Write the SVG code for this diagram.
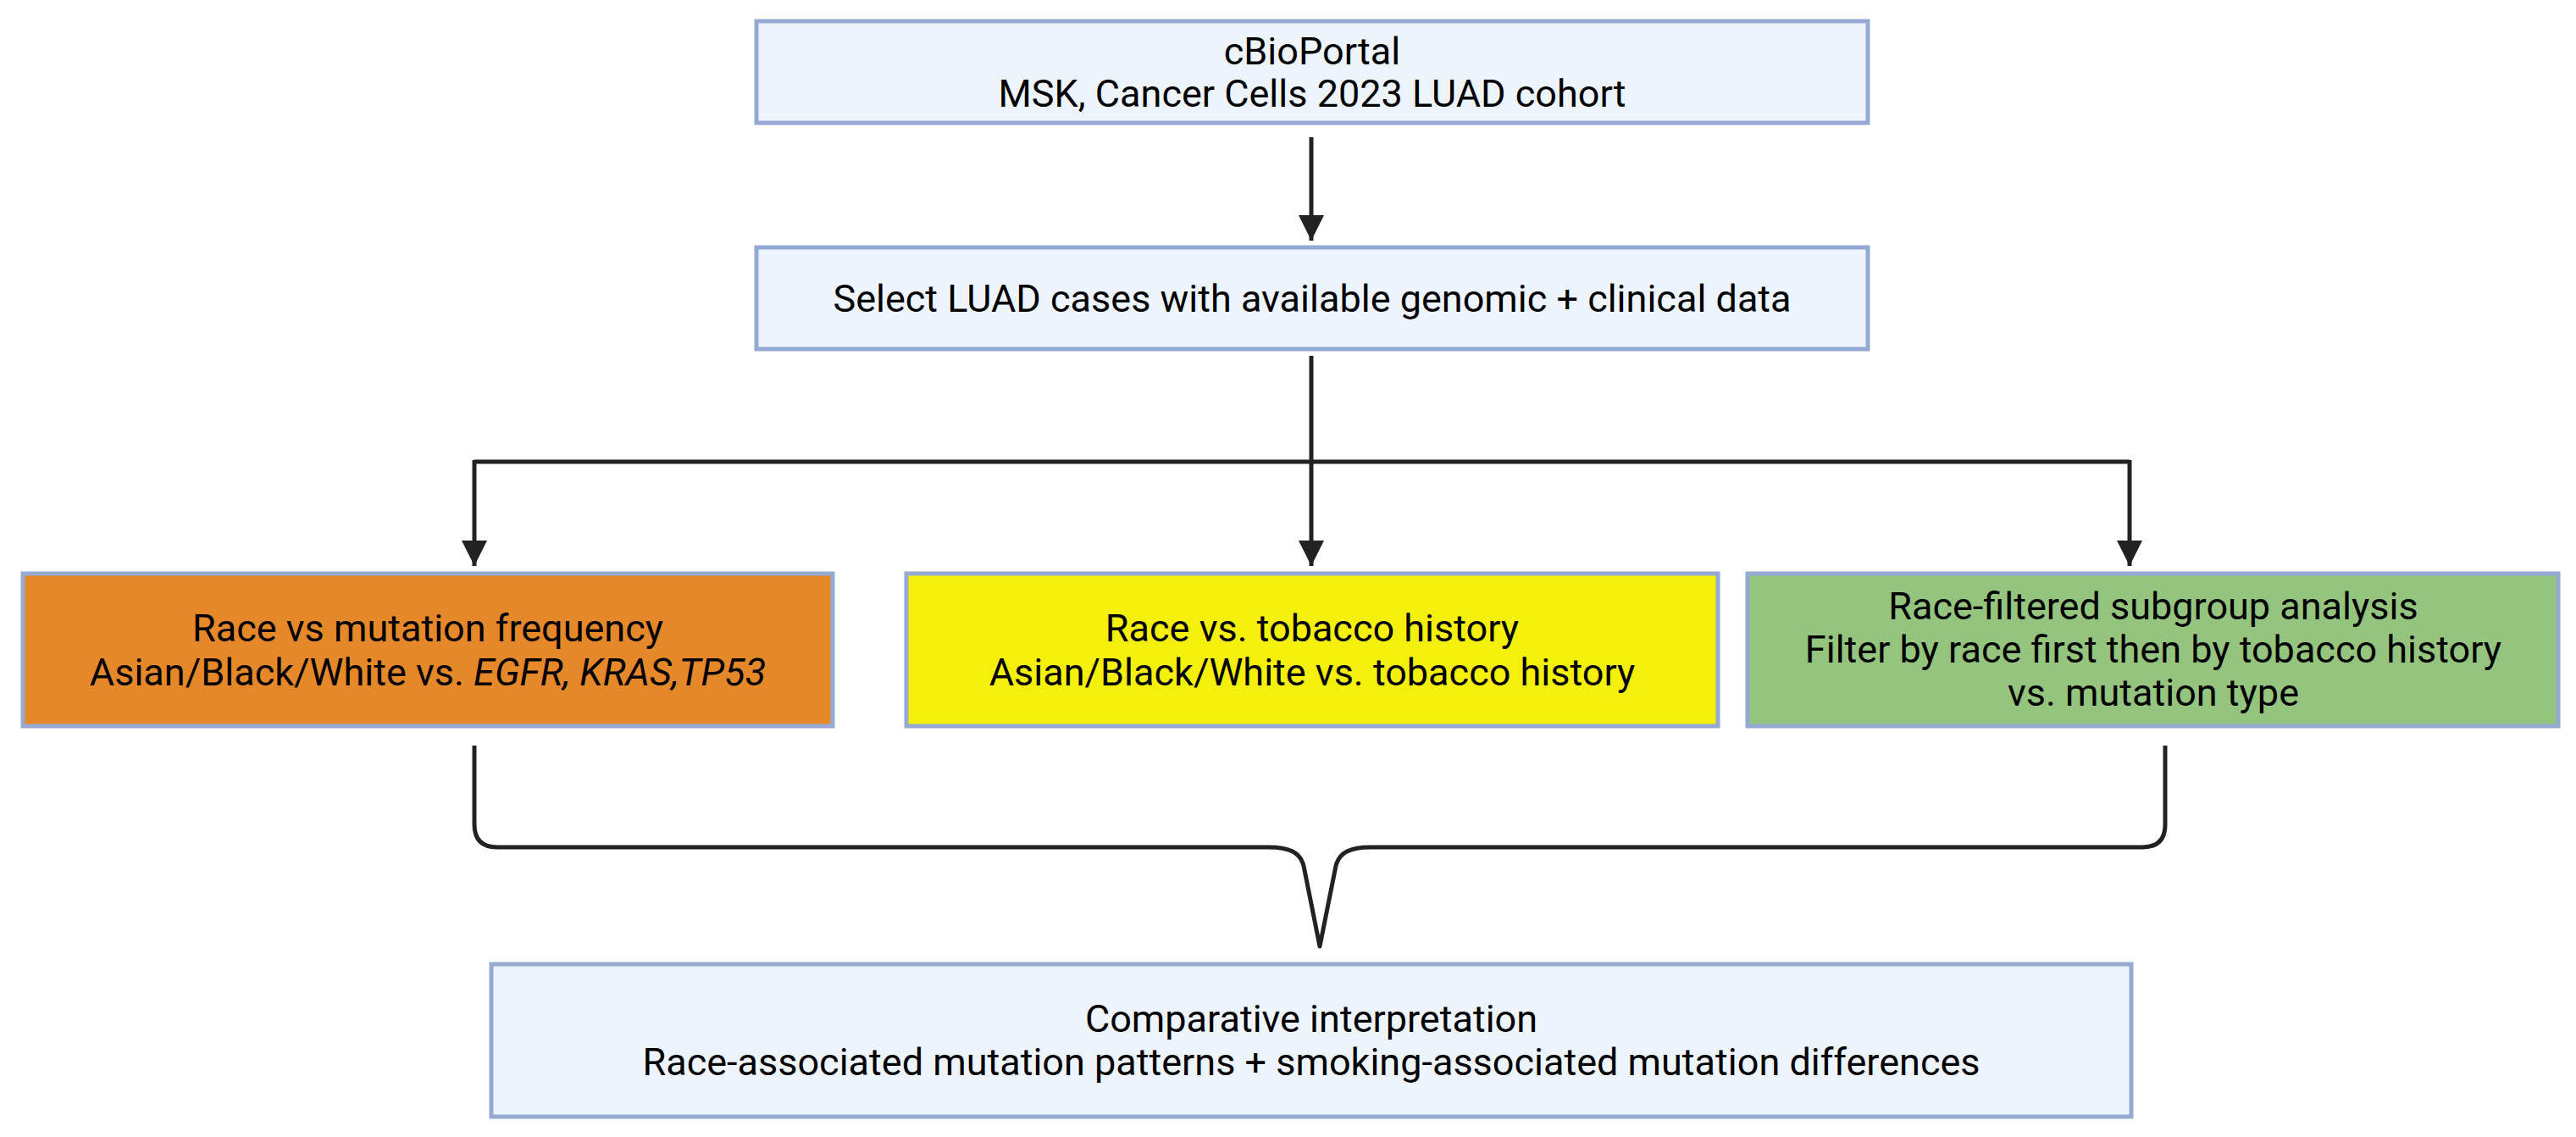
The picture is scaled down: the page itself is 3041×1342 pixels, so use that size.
<svg xmlns="http://www.w3.org/2000/svg" width="3041" height="1342" viewBox="0 0 3041 1342">
<defs>
<style>
.box{stroke:#95AAD3;stroke-width:5}
.light{fill:#EDF4FC}
.t{font-family:Roboto,"Liberation Sans",sans-serif;font-size:45px;fill:#000;text-anchor:middle}
.ln{fill:none;stroke:#222222;stroke-width:5}
</style>
<marker id="ah" viewBox="0 0 30 30" refX="30" refY="15" markerWidth="30" markerHeight="30" markerUnits="userSpaceOnUse" orient="auto">
<path d="M0,0 L30,15 L0,30 Z" fill="#222222"/>
</marker>
</defs>
<rect width="3041" height="1342" fill="#FFFFFF"/>
<g id="connectors">
<line class="ln" x1="1548" y1="162" x2="1548" y2="284" marker-end="url(#ah)"/>
<path class="ln" d="M1548,420 V545"/>
<path class="ln" d="M560,545 H2514"/>
<line class="ln" x1="560" y1="543" x2="560" y2="668" marker-end="url(#ah)"/>
<line class="ln" x1="1548" y1="543" x2="1548" y2="668" marker-end="url(#ah)"/>
<line class="ln" x1="2514" y1="543" x2="2514" y2="668" marker-end="url(#ah)"/>
<path class="ln" stroke-linejoin="round" d="M560,880 V973 Q560,1000 587,1000 H1498 C1522,1000 1535,1006 1539,1022 L1558,1117 L1577,1022 C1581,1006 1594,1000 1618,1000 H2529 Q2556,1000 2556,973 V880"/>
</g>
<g id="node-cbioportal">
<rect class="box light" x="893" y="25" width="1312" height="120"/>
<text class="t" x="1549" y="76">cBioPortal</text>
<text class="t" x="1549" y="126">MSK, Cancer Cells 2023 LUAD cohort</text>
</g>
<g id="node-select">
<rect class="box light" x="893" y="292" width="1312" height="120"/>
<text class="t" x="1549" y="368">Select LUAD cases with available genomic + clinical data</text>
</g>
<g id="node-race-mutation">
<rect class="box" fill="#E5882A" x="27" y="677" width="956" height="180"/>
<text class="t" x="505" y="757">Race vs mutation frequency</text>
<text class="t" x="505" y="809">Asian/Black/White vs. <tspan font-style="italic">EGFR, KRAS,TP53</tspan></text>
</g>
<g id="node-race-tobacco">
<rect class="box" fill="#F4F00C" x="1070" y="677" width="958" height="180"/>
<text class="t" x="1549" y="757">Race vs. tobacco history</text>
<text class="t" x="1549" y="809">Asian/Black/White vs. tobacco history</text>
</g>
<g id="node-subgroup">
<rect class="box" fill="#95C47E" x="2063" y="677" width="957" height="180"/>
<text class="t" x="2542" y="731">Race-filtered subgroup analysis</text>
<text class="t" x="2542" y="782">Filter by race first then by tobacco history</text>
<text class="t" x="2542" y="833">vs. mutation type</text>
</g>
<g id="node-comparative">
<rect class="box light" x="580" y="1138" width="1936" height="180"/>
<text class="t" x="1548" y="1218">Comparative interpretation</text>
<text class="t" x="1548" y="1269">Race-associated mutation patterns + smoking-associated mutation differences</text>
</g>
</svg>
